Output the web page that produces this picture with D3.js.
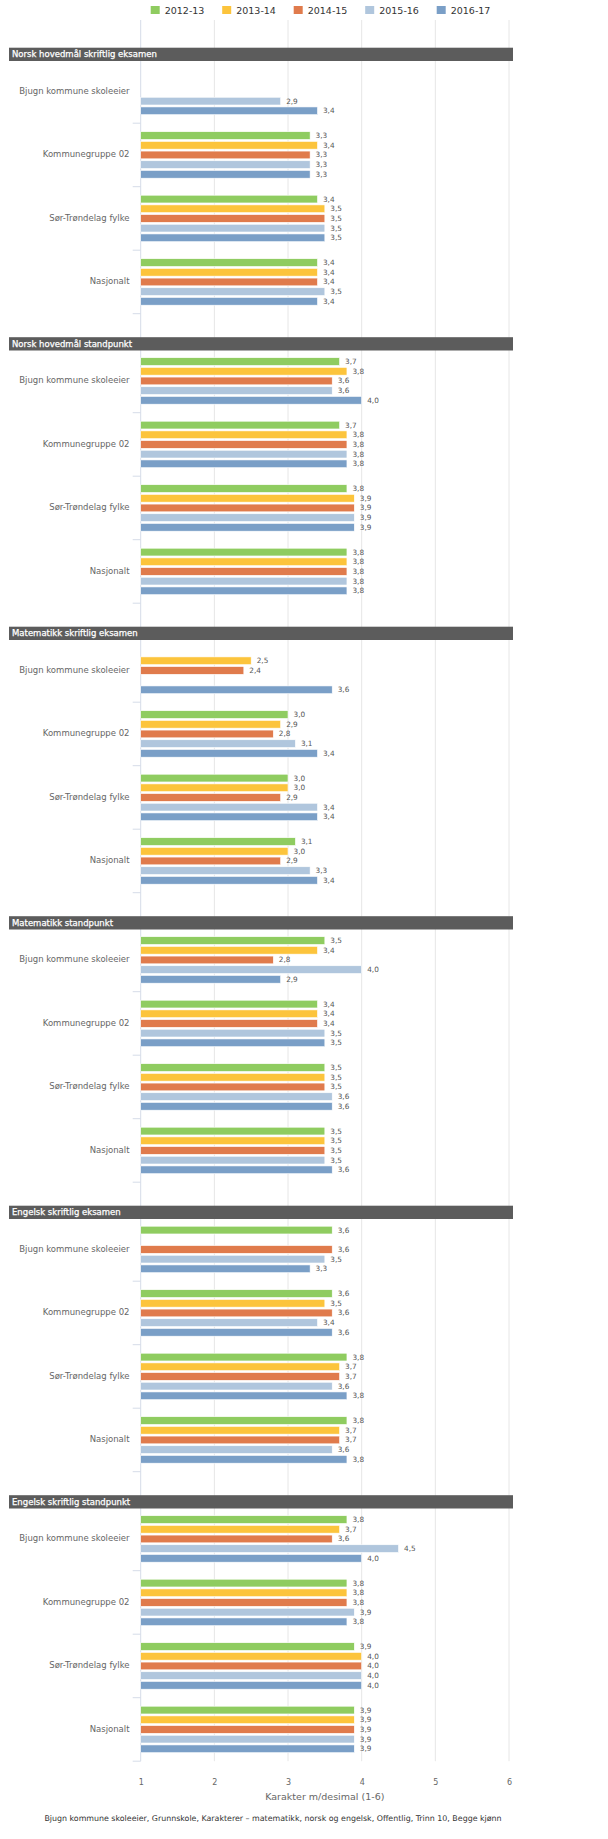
<!DOCTYPE html>
<html>
<head>
<meta charset="utf-8">
<script src="https://cdn.jsdelivr.net/npm/d3@7"></script>
<style>
  html, body { margin: 0; padding: 0; background: #fff; }
  svg { display: block; font-family: "DejaVu Sans", Verdana, sans-serif; }
</style>
</head>
<body>
<svg id="chart" width="608" height="1839"></svg>
<script>
// ---------- DATA ----------
const seriesNames = ["2012-13", "2013-14", "2014-15", "2015-16", "2016-17"];
const seriesColors = ["#8fcc60", "#fcc43c", "#e07b4c", "#b0c6dd", "#7a9fc7"];
const categories = ["Bjugn kommune skoleeier", "Kommunegruppe 02", "Sør-Trøndelag fylke", "Nasjonalt"];
const sections = [
  "Norsk hovedmål skriftlig eksamen",
  "Norsk hovedmål standpunkt",
  "Matematikk skriftlig eksamen",
  "Matematikk standpunkt",
  "Engelsk skriftlig eksamen",
  "Engelsk skriftlig standpunkt"
];
// values per section: rows = categories, columns = series (null = no data)
const norskSkriftligEksamen = [
  [null, null, null, 2.9, 3.4],
  [3.3, 3.4, 3.3, 3.3, 3.3],
  [3.4, 3.5, 3.5, 3.5, 3.5],
  [3.4, 3.4, 3.4, 3.5, 3.4]
];
const norskStandpunkt = [
  [3.7, 3.8, 3.6, 3.6, 4.0],
  [3.7, 3.8, 3.8, 3.8, 3.8],
  [3.8, 3.9, 3.9, 3.9, 3.9],
  [3.8, 3.8, 3.8, 3.8, 3.8]
];
const matteSkriftligEksamen = [
  [null, 2.5, 2.4, null, 3.6],
  [3.0, 2.9, 2.8, 3.1, 3.4],
  [3.0, 3.0, 2.9, 3.4, 3.4],
  [3.1, 3.0, 2.9, 3.3, 3.4]
];
const matteStandpunkt = [
  [3.5, 3.4, 2.8, 4.0, 2.9],
  [3.4, 3.4, 3.4, 3.5, 3.5],
  [3.5, 3.5, 3.5, 3.6, 3.6],
  [3.5, 3.5, 3.5, 3.5, 3.6]
];
const engelskSkriftligEksamen = [
  [3.6, null, 3.6, 3.5, 3.3],
  [3.6, 3.5, 3.6, 3.4, 3.6],
  [3.8, 3.7, 3.7, 3.6, 3.8],
  [3.8, 3.7, 3.7, 3.6, 3.8]
];
const engelskStandpunkt = [
  [3.8, 3.7, 3.6, 4.5, 4.0],
  [3.8, 3.8, 3.8, 3.9, 3.8],
  [3.9, 4.0, 4.0, 4.0, 4.0],
  [3.9, 3.9, 3.9, 3.9, 3.9]
];
const xTicks = [1, 2, 3, 4, 5, 6];
const xAxisTitle = "Karakter m/desimal (1-6)";
const footerText = "Bjugn kommune skoleeier, Grunnskole, Karakterer – matematikk, norsk og engelsk, Offentlig, Trinn 10, Begge kjønn";

const sectionValues = [norskSkriftligEksamen, norskStandpunkt, matteSkriftligEksamen,
                       matteStandpunkt, engelskSkriftligEksamen, engelskStandpunkt];

// ---------- LAYOUT ----------
const svg = d3.select("#chart");
const plotLeft = 140.7, plotRight = 509;
const plotTop = 20, sectionsTop = 47.7, sectionPitch = 289.5;
const headerH = 13.3, groupsOffset = 12, groupsH = 254;

const x = d3.scaleLinear().domain([1, 6]).range([plotLeft, plotRight]);
const ySection = d3.scaleBand().domain(sections)
  .range([sectionsTop, sectionsTop + sections.length * sectionPitch]);
const yGroup = d3.scaleBand().domain(categories).range([groupsOffset, groupsOffset + groupsH]);
const yBar = d3.scaleBand().domain(seriesNames).range([0, yGroup.bandwidth()])
  .paddingInner(0.2).paddingOuter(0.88);
const color = d3.scaleOrdinal().domain(seriesNames).range(seriesColors);
const plotBottom = ySection(sections[sections.length - 1]) + groupsOffset + groupsH;
const fmt = v => d3.format(".1f")(v).replace(".", ",");

// gridlines
svg.append("g").selectAll("line").data(xTicks).join("line")
  .attr("x1", d => x(d)).attr("x2", d => x(d))
  .attr("y1", plotTop).attr("y2", plotBottom)
  .attr("stroke", d => d === 1 ? "#d5dce8" : "#e6e6e6")
  .attr("stroke-width", 1);

// legend
const legendX = d3.scaleBand().domain(seriesNames).range([150.7, 150.7 + 71.5 * 5]);
const legend = svg.append("g").selectAll("g").data(seriesNames).join("g")
  .attr("transform", d => `translate(${legendX(d)},0)`);
legend.append("rect").attr("x", 0).attr("y", 6).attr("width", 9).attr("height", 8)
  .attr("fill", d => color(d));
legend.append("text").attr("x", 14).attr("y", 13.8)
  .attr("font-size", 9.5).attr("fill", "#333")
  .text(d => d);

// sections
sections.forEach((sec, si) => {
  const top = ySection(sec);
  const g = svg.append("g").attr("transform", `translate(0,${top})`);

  // tick marks on category axis
  const tickYs = categories.map(c => yGroup(c) + yGroup.bandwidth());
  g.append("g").selectAll("line").data(tickYs).join("line")
    .attr("x1", plotLeft - 8).attr("x2", plotLeft)
    .attr("y1", d => d).attr("y2", d => d)
    .attr("stroke", "#d5dce8");

  categories.forEach((cat, ci) => {
    const gg = g.append("g").attr("transform", `translate(0,${yGroup(cat)})`);
    gg.append("text")
      .attr("x", 129.5).attr("y", yGroup.bandwidth() / 2 - 0.5)
      .attr("dy", "0.35em").attr("text-anchor", "end")
      .attr("font-size", 8.5).attr("fill", "#666")
      .text(cat);
    const rows = seriesNames.map((s, k) => ({ s, v: sectionValues[si][ci][k] }))
      .filter(d => d.v != null);
    gg.selectAll("rect").data(rows).join("rect")
      .attr("x", x(1)).attr("y", d => yBar(d.s))
      .attr("width", d => x(d.v) - x(1)).attr("height", yBar.bandwidth())
      .attr("fill", d => color(d.s))
      .attr("stroke", "#fff").attr("stroke-width", 0.6);
    gg.selectAll("text.lbl").data(rows).join("text").attr("class", "lbl")
      .attr("x", d => x(d.v) + 5.5).attr("y", d => yBar(d.s) + yBar.bandwidth() / 2)
      .attr("dy", "0.35em").attr("font-size", 7.3).attr("fill", "#555")
      .text(d => fmt(d.v));
  });

  // header bar
  g.append("rect").attr("x", 9).attr("y", 0).attr("width", 504).attr("height", headerH)
    .attr("fill", "#5c5c5c");
  g.append("text").attr("x", 12).attr("y", headerH / 2).attr("dy", "0.35em")
    .attr("font-size", 8.5).attr("fill", "#fff")
    .attr("stroke", "#fff").attr("stroke-width", 0.25)
    .text(sec);
});

// x axis
const axis = svg.append("g").attr("transform", `translate(0,${plotBottom})`)
  .call(d3.axisBottom(x).tickValues(xTicks).tickFormat(d3.format("d")).tickSize(0).tickPadding(18));
axis.select(".domain").remove();
axis.selectAll("text").attr("font-size", 8).attr("fill", "#666")
  .attr("font-family", "DejaVu Sans, Verdana, sans-serif");

svg.append("text").attr("x", (plotLeft + plotRight) / 2).attr("y", 1799.5)
  .attr("text-anchor", "middle").attr("font-size", 9.5).attr("fill", "#666")
  .text(xAxisTitle);

svg.append("text").attr("x", 273).attr("y", 1821)
  .attr("text-anchor", "middle").attr("font-size", 7.9).attr("fill", "#333")
  .text(footerText);
</script>
</body>
</html>
